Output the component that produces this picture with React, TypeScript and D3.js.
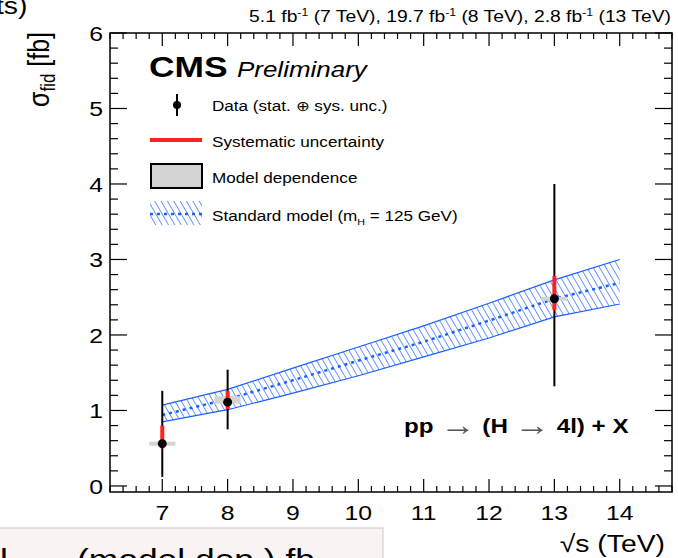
import React from 'react';
import * as d3 from 'd3';

// measurements at each centre-of-mass energy
const sqrtS = [7, 8, 13];
const sigma = [0.56, 1.11, 2.48];
const totUp = [0.70, 0.43, 1.52];
const totDown = [0.44, 0.36, 1.16];
const sysUp = [0.24, 0.15, 0.30];
const sysDown = [0.06, 0.09, 0.15];
const modelUp = [0.02, 0.08, 0.02];
const modelDown = [0.02, 0.02, 0.03];

// standard model prediction band
const smEnergy = [7, 8, 9, 10, 11, 12, 13, 14];
const smCentral = [0.94, 1.15, 1.40, 1.66, 1.91, 2.19, 2.48, 2.69];
const smHigh = [1.07, 1.28, 1.56, 1.84, 2.12, 2.42, 2.73, 3.0];
const smLow = [0.85, 1.01, 1.23, 1.46, 1.71, 1.96, 2.24, 2.41];

const xTicks = [7, 8, 9, 10, 11, 12, 13, 14];
const yTicks = [0, 1, 2, 3, 4, 5, 6];

const FONT = '"Liberation Sans", Arial, Helvetica, sans-serif';
const BLUE = '#1a5fff';
const SX = 1.18;

function T({ x, y, size, anchor = 'start', weight = 'normal', italic = false, fill = '#000', children, sx = SX }: any) {
  return (
    <text
      transform={`translate(${x},${y}) scale(${sx},1)`}
      fontSize={size}
      textAnchor={anchor}
      fontWeight={weight}
      fontStyle={italic ? 'italic' : 'normal'}
      fill={fill}
      fontFamily={FONT}
    >
      {children}
    </text>
  );
}

export default function App() {
  const width = 678;
  const height = 558;
  const left = 110, right = 672, top = 33, bottom = 492;

  const x = d3.scaleLinear().domain([6.2, 14.8]).range([left, right]);
  const y = d3.scaleLinear().domain([-0.08, 6]).range([bottom, top]);

  const band = smEnergy.map((e, i) => ({ e, c: smCentral[i], hi: smHigh[i], lo: smLow[i] }));
  const area = d3.area<any>().x(d => x(d.e)).y0(d => y(d.lo)).y1(d => y(d.hi));
  const lineHi = d3.line<any>().x(d => x(d.e)).y(d => y(d.hi));
  const lineLo = d3.line<any>().x(d => x(d.e)).y(d => y(d.lo));
  const lineC = d3.line<any>().x(d => x(d.e)).y(d => y(d.c));

  const xMinor = d3.range(6.2, 14.81, 0.2).map(v => Math.round(v * 10) / 10);
  const yMinor = d3.range(0, 6.01, 0.2).map(v => Math.round(v * 10) / 10);

  const pts = sqrtS.map((e, i) => ({ e, v: sigma[i], tu: totUp[i], td: totDown[i], su: sysUp[i], sd: sysDown[i], mu: modelUp[i], md: modelDown[i] }));

  const arrow = (
    <tspan fontWeight="normal" fill="#555" fontSize={30} dy={2}>→</tspan>
  );

  return (
    <svg width={width} height={height} style={{ position: 'absolute', left: 0, top: 0, background: '#fff' }}>
      <defs>
        <pattern id="hatch" width="5.5" height="6" patternUnits="userSpaceOnUse" patternTransform="rotate(-30)">
          <line x1="0" y1="0" x2="0" y2="6" stroke={BLUE} strokeWidth="1.3" />
        </pattern>
        <clipPath id="frame">
          <rect x={left} y={top} width={right - left} height={bottom - top} />
        </clipPath>
      </defs>

      {/* fragments cut by the page edges */}
      <T x={-4} y={14} size={24}>ts)</T>
      <rect x={-1} y={528} width={384} height={40} fill="#f9f4f2" stroke="#c8c8c8" />
      <T x={0} y={570} size={30}>l</T>
      <T x={77} y={570} size={30}>(model dep.) fb</T>

      {/* SM band */}
      <g clipPath="url(#frame)">
        <path d={area(band) ?? ''} fill="url(#hatch)" />
        <path d={lineHi(band) ?? ''} fill="none" stroke={BLUE} strokeWidth={1.2} />
        <path d={lineLo(band) ?? ''} fill="none" stroke={BLUE} strokeWidth={1.2} />
        <path d={lineC(band) ?? ''} fill="none" stroke={BLUE} strokeWidth={2.5} strokeDasharray="3 4" />
      </g>

      {/* data */}
      {pts.map(p => (
        <g key={p.e}>
          <rect
            x={x(p.e - 0.2)}
            width={x(p.e + 0.2) - x(p.e - 0.2)}
            y={Math.min(y(p.v + p.mu), y(p.v) - 2)}
            height={Math.max(y(p.v - p.md) - y(p.v + p.mu), 4)}
            fill="#d4d4d4"
          />
          <line x1={x(p.e)} x2={x(p.e)} y1={y(p.v + p.tu)} y2={y(p.v - p.td)} stroke="#000" strokeWidth={2} />
          <line x1={x(p.e)} x2={x(p.e)} y1={y(p.v + p.su)} y2={y(p.v - p.sd)} stroke="#ff2020" strokeWidth={4} />
          <circle cx={x(p.e)} cy={y(p.v)} r={4.5} fill="#000" />
        </g>
      ))}

      {/* frame */}
      <rect x={left} y={top} width={right - left} height={bottom - top} fill="none" stroke="#000" strokeWidth={1.5} />

      {/* x ticks, bottom and top */}
      {xMinor.map(v => {
        const major = xTicks.includes(v);
        const len = major ? 13 : 6;
        return (
          <g key={'x' + v}>
            <line x1={x(v)} x2={x(v)} y1={bottom} y2={bottom - len} stroke="#000" strokeWidth={1.2} />
            <line x1={x(v)} x2={x(v)} y1={top} y2={top + len} stroke="#000" strokeWidth={1.2} />
          </g>
        );
      })}
      {/* y ticks, left and right */}
      {yMinor.map(v => {
        const major = yTicks.includes(v);
        const len = major ? 17 : 8;
        return (
          <g key={'y' + v}>
            <line x1={left} x2={left + len} y1={y(v)} y2={y(v)} stroke="#000" strokeWidth={1.2} />
            <line x1={right} x2={right - len} y1={y(v)} y2={y(v)} stroke="#000" strokeWidth={1.2} />
          </g>
        );
      })}

      {xTicks.map(v => (
        <T key={'xl' + v} x={x(v)} y={520} size={21} anchor="middle">{v}</T>
      ))}
      {yTicks.map(v => (
        <T key={'yl' + v} x={103} y={y(v) + 8} size={21} anchor="end">{v}</T>
      ))}

      {/* axis titles */}
      <T x={665} y={552} size={24} anchor="end">√s (TeV)</T>
      <text
        transform={`translate(49,32) scale(${SX},1) rotate(-90)`}
        fontSize={25}
        textAnchor="end"
        fontFamily={FONT}
      >
        σ<tspan fontSize={17} dy={5}>fid</tspan><tspan dy={-5}> [fb]</tspan>
      </text>

      {/* luminosity label */}
      <T x={671} y={22} size={16.5} anchor="end" sx={1.17}>
        5.1 fb<tspan fontSize={10.5} dy={-6}>-1</tspan><tspan dy={6}> (7 TeV), 19.7 fb</tspan>
        <tspan fontSize={10.5} dy={-6}>-1</tspan><tspan dy={6}> (8 TeV), 2.8 fb</tspan>
        <tspan fontSize={10.5} dy={-6}>-1</tspan><tspan dy={6}> (13 TeV)</tspan>
      </T>

      <T x={149} y={77} size={30} weight="bold">CMS</T>
      <T x={237} y={77} size={22} italic>Preliminary</T>

      {/* legend */}
      <line x1={177} x2={177} y1={94} y2={116} stroke="#000" strokeWidth={2} />
      <circle cx={177} cy={105} r={4} fill="#000" />
      <T x={212} y={111} size={14.5}>Data (stat. ⊕ sys. unc.)</T>

      <line x1={150} x2={202} y1={140} y2={140} stroke="#ff2020" strokeWidth={4} />
      <T x={212} y={147} size={14.5}>Systematic uncertainty</T>

      <rect x={151} y={164} width={51} height={24} fill="#d4d4d4" stroke="#000" strokeWidth={2} />
      <T x={212} y={183} size={14.5}>Model dependence</T>

      <rect x={150} y={201} width={52} height={24} fill="url(#hatch)" />
      <line x1={150} x2={202} y1={214} y2={214} stroke={BLUE} strokeWidth={2.5} strokeDasharray="3 4" />
      <T x={212} y={221} size={14.5}>
        Standard model (m<tspan fontSize={9} dy={4}>H</tspan><tspan dy={-4}> = 125 GeV)</tspan>
      </T>

      {/* process label */}
      <T x={404} y={433} size={20.5} weight="bold">
        pp {arrow}<tspan dy={-2}> (H </tspan>{arrow}<tspan dy={-2}> 4l) + X</tspan>
      </T>
    </svg>
  );
}
